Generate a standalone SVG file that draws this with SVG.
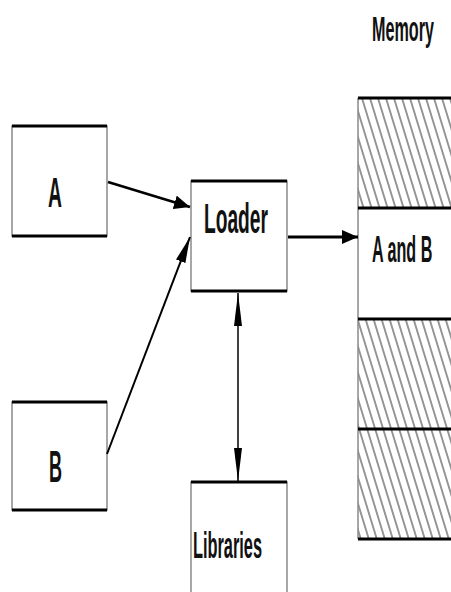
<svg xmlns="http://www.w3.org/2000/svg" width="451" height="592" viewBox="0 0 451 592">
<style>
.box{fill:#fff;stroke:#8a8a8a;stroke-width:1.5}
.edge{stroke:#000;stroke-width:3}
.lbl{font-family:"Liberation Sans",Arial,sans-serif;font-weight:bold;fill:#111}
.conn{stroke:#000;fill:none}
</style>
<defs>
<pattern id="hatch" patternUnits="userSpaceOnUse" width="8" height="10" patternTransform="skewX(17)">
<line x1="4" y1="0" x2="4" y2="10" stroke="#3a3a3a" stroke-width="1.1"/>
</pattern>
<marker id="headBold" markerUnits="userSpaceOnUse" markerWidth="17" markerHeight="14" refX="16" refY="7" orient="auto">
<path d="M0,0 L16,7 L0,14 z" fill="#000"/>
</marker>
<marker id="headNarrowB" markerUnits="userSpaceOnUse" markerWidth="27" markerHeight="10" refX="26" refY="5" orient="auto">
<path d="M0,0 L26,5 L0,10 z" fill="#000"/>
</marker>
<marker id="headThin" markerUnits="userSpaceOnUse" markerWidth="34" markerHeight="8" refX="33" refY="4" orient="auto-start-reverse">
<path d="M0,0 L33,4 L0,8 z" fill="#000"/>
</marker>
</defs>
<rect width="451" height="592" fill="#fff"/>

<g id="memory">
<rect x="358" y="98" width="100" height="441" fill="#fff"/>
<rect x="358" y="98" width="100" height="110" fill="url(#hatch)"/>
<rect x="358" y="319" width="100" height="220" fill="url(#hatch)"/>
<line x1="358" y1="98" x2="358" y2="539" stroke="#8a8a8a" stroke-width="1.5"/>
<line class="edge" x1="358" y1="98" x2="451" y2="98"/>
<line class="edge" x1="358" y1="208" x2="451" y2="208"/>
<line class="edge" x1="358" y1="319" x2="451" y2="319"/>
<line class="edge" x1="358" y1="429" x2="451" y2="429"/>
<line class="edge" x1="358" y1="539" x2="451" y2="539"/>
<text class="lbl" transform="translate(372,41) scale(0.449,1)" font-size="36">Memory</text>
<text class="lbl" transform="translate(372,262) scale(0.436,1)" font-size="37">A and B</text>
</g>

<g id="nodeA">
<rect class="box" x="12" y="126" width="95" height="110"/>
<line class="edge" x1="12" y1="126" x2="107" y2="126"/>
<line class="edge" x1="12" y1="236" x2="107" y2="236"/>
<text class="lbl" transform="translate(48,207) scale(0.46,1)" font-size="42">A</text>
</g>

<g id="nodeB">
<rect class="box" x="12" y="402" width="95" height="108"/>
<line class="edge" x1="12" y1="402" x2="107" y2="402"/>
<line class="edge" x1="12" y1="510" x2="107" y2="510"/>
<text class="lbl" transform="translate(49,482) scale(0.41,1)" font-size="44">B</text>
</g>

<g id="loader">
<rect class="box" x="191" y="181" width="96" height="110"/>
<line class="edge" x1="191" y1="181" x2="287" y2="181"/>
<line class="edge" x1="191" y1="291" x2="287" y2="291"/>
<text class="lbl" transform="translate(204,233) scale(0.457,1)" font-size="42">Loader</text>
</g>

<g id="libraries">
<rect class="box" x="191" y="482" width="96" height="120"/>
<line class="edge" x1="191" y1="482" x2="287" y2="482"/>
<text class="lbl" transform="translate(193,558) scale(0.454,1)" font-size="36">Libraries</text>
</g>

<g id="connectors">
<line class="conn" x1="108" y1="182" x2="190" y2="207" stroke-width="2.8" marker-end="url(#headBold)"/>
<line class="conn" x1="107" y1="454" x2="190" y2="237" stroke-width="2" marker-end="url(#headNarrowB)"/>
<line class="conn" x1="288" y1="237" x2="358" y2="237" stroke-width="3" marker-end="url(#headBold)"/>
<line class="conn" x1="238" y1="293" x2="238" y2="481" stroke-width="1.5" marker-start="url(#headThin)" marker-end="url(#headThin)"/>
</g>
</svg>
